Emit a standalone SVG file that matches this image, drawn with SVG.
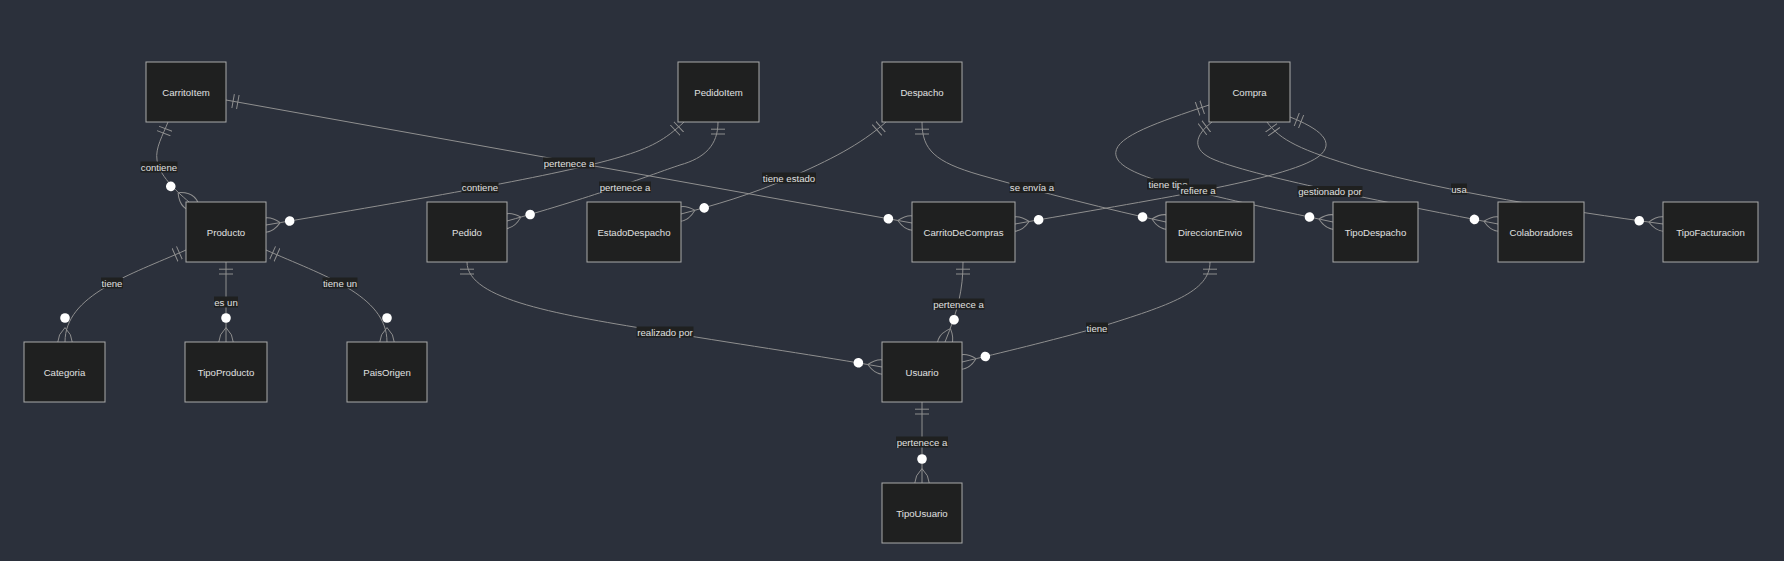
<svg xmlns="http://www.w3.org/2000/svg" width="1784" height="561" viewBox="0 0 1784 561">
<style>
.ent rect{fill:#1f2020;stroke:#aaaaaa;stroke-width:1}
text{font-family:"Liberation Sans",Arial,sans-serif;font-size:9.6px;fill:#e0e0e0;text-anchor:middle;dominant-baseline:central}
.rel{fill:none;stroke:#8f8f8f;stroke-width:1;marker-start:url(#one);marker-end:url(#many)}
.lbl rect{fill:#1f2020}
</style>
<defs>
<marker id="one" viewBox="0 0 18 18" refX="0" refY="9" markerWidth="14.4" markerHeight="14.4" markerUnits="userSpaceOnUse" orient="auto">
<path d="M9,0 L9,18 M15,0 L15,18" fill="none" stroke="#8f8f8f" stroke-width="1.25"/>
</marker>
<marker id="many" viewBox="0 0 57 36" refX="39" refY="18" markerWidth="45.6" markerHeight="28.8" markerUnits="userSpaceOnUse" orient="auto">
<circle cx="9" cy="18" r="6" fill="#ffffff"/>
<path d="M21,18 Q39,0 57,18 Q39,36 21,18" fill="none" stroke="#8f8f8f" stroke-width="1.25"/>
</marker>
</defs>
<rect width="1784" height="561" fill="#2b303b"/>
<g id="connectors">
<path class="rel" d="M168,122 C163,135 155,148 157,160 C159,175 175,190 189,202"/>
<path class="rel" d="M226,100 L912,223"/>
<path class="rel" d="M684,122 C665,140 650,148 620,157 C560,175 420,199 266,225"/>
<path class="rel" d="M718,122 C718,145 705,158 680,165 C650,175 600,195 507,221"/>
<path class="rel" d="M886,122 C860,145 830,160 789,178 C750,195 715,205 681,214"/>
<path class="rel" d="M922,122 C922,150 935,162 980,175 C1040,192 1110,210 1166,222"/>
<path class="rel" d="M963,262 C963,290 958,310 945,342"/>
<path class="rel" d="M467,262 C467,300 560,315 665,332 C750,346 820,356 882,367"/>
<path class="rel" d="M1210,262 C1210,292 1170,305 1100,327 C1050,341 1000,353 962,362"/>
<path class="rel" d="M186,250 C130,275 65,295 65,342"/>
<path class="rel" d="M226,262 L226,342"/>
<path class="rel" d="M266,250 C322,275 387,295 387,342"/>
<path class="rel" d="M1290,117 C1318,128 1338,142 1318,157 C1285,180 1150,200 1015,224"/>
<path class="rel" d="M1209,105 C1150,125 1105,140 1118,160 C1130,178 1200,194 1333,222"/>
<path class="rel" d="M1212,122 C1195,135 1190,150 1215,160 C1260,178 1400,205 1498,224"/>
<path class="rel" d="M1267,122 C1280,140 1300,150 1360,168 C1450,192 1560,210 1663,224"/>
<path class="rel" d="M922,402 L922,483"/>
<g class="lbl">
<rect x="140.5" y="161.5" width="37" height="11"/><text x="159" y="167">contiene</text>
<rect x="543" y="157.5" width="52" height="11"/><text x="569" y="163">pertenece a</text>
<rect x="461.5" y="182" width="37" height="11"/><text x="480" y="187.5">contiene</text>
<rect x="599" y="181.5" width="52" height="11"/><text x="625" y="187">pertenece a</text>
<rect x="762" y="172.5" width="54" height="11"/><text x="789" y="178">tiene estado</text>
<rect x="1009.5" y="182" width="45" height="11"/><text x="1032" y="187.5">se envía a</text>
<rect x="1147" y="178.5" width="42" height="11"/><text x="1168" y="184">tiene tipo</text>
<rect x="1179.5" y="184.5" width="37" height="11"/><text x="1198" y="190">refiere a</text>
<rect x="1297.5" y="186" width="65" height="11"/><text x="1330" y="191.5">gestionado por</text>
<rect x="1451" y="183.5" width="16" height="11"/><text x="1459" y="189">usa</text>
<rect x="101" y="277.5" width="22" height="11"/><text x="112" y="283">tiene</text>
<rect x="214" y="296.5" width="24" height="11"/><text x="226" y="302">es un</text>
<rect x="322.5" y="277.5" width="35" height="11"/><text x="340" y="283">tiene un</text>
<rect x="932.5" y="298.5" width="52" height="11"/><text x="958.5" y="304">pertenece a</text>
<rect x="636.5" y="326.5" width="57" height="11"/><text x="665" y="332">realizado por</text>
<rect x="1086" y="322.5" width="22" height="11"/><text x="1097" y="328">tiene</text>
<rect x="896" y="436.5" width="52" height="11"/><text x="922" y="442">pertenece a</text>
</g>
</g>
<g id="CarritoItem" class="ent"><rect x="146" y="62" width="80" height="60"/><text x="186" y="92">CarritoItem</text></g>
<g id="PedidoItem" class="ent"><rect x="678" y="62" width="81" height="60"/><text x="718.5" y="92">PedidoItem</text></g>
<g id="Despacho" class="ent"><rect x="882" y="62" width="80" height="60"/><text x="922" y="92">Despacho</text></g>
<g id="Compra" class="ent"><rect x="1209" y="62" width="81" height="60"/><text x="1249.5" y="92">Compra</text></g>
<g id="Producto" class="ent"><rect x="186" y="202" width="80" height="60"/><text x="226" y="232">Producto</text></g>
<g id="Pedido" class="ent"><rect x="427" y="202" width="80" height="60"/><text x="467" y="232">Pedido</text></g>
<g id="EstadoDespacho" class="ent"><rect x="587" y="202" width="94" height="60"/><text x="634" y="232">EstadoDespacho</text></g>
<g id="CarritoDeCompras" class="ent"><rect x="912" y="202" width="103" height="60"/><text x="963.5" y="232">CarritoDeCompras</text></g>
<g id="DireccionEnvio" class="ent"><rect x="1166" y="202" width="88" height="60"/><text x="1210" y="232">DireccionEnvio</text></g>
<g id="TipoDespacho" class="ent"><rect x="1333" y="202" width="85" height="60"/><text x="1375.5" y="232">TipoDespacho</text></g>
<g id="Colaboradores" class="ent"><rect x="1498" y="202" width="86" height="60"/><text x="1541" y="232">Colaboradores</text></g>
<g id="TipoFacturacion" class="ent"><rect x="1663" y="202" width="95" height="60"/><text x="1710.5" y="232">TipoFacturacion</text></g>
<g id="Categoria" class="ent"><rect x="24" y="342" width="81" height="60"/><text x="64.5" y="372">Categoria</text></g>
<g id="TipoProducto" class="ent"><rect x="185" y="342" width="82" height="60"/><text x="226" y="372">TipoProducto</text></g>
<g id="PaisOrigen" class="ent"><rect x="347" y="342" width="80" height="60"/><text x="387" y="372">PaisOrigen</text></g>
<g id="Usuario" class="ent"><rect x="882" y="342" width="80" height="60"/><text x="922" y="372">Usuario</text></g>
<g id="TipoUsuario" class="ent"><rect x="882" y="483" width="80" height="60"/><text x="922" y="513">TipoUsuario</text></g>
</svg>
